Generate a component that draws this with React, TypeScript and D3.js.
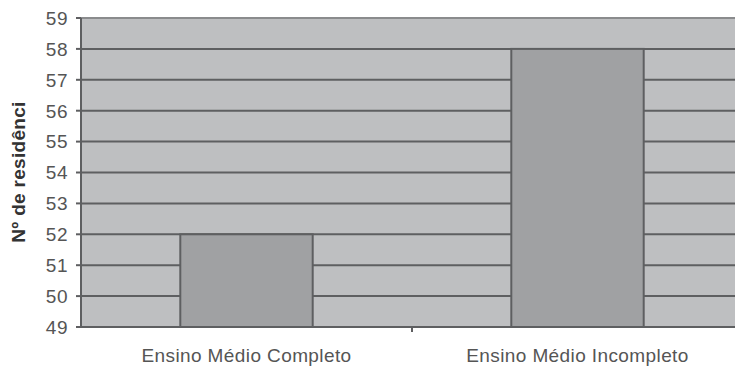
import React from "react";
import * as d3 from "d3";

const categories = ["Ensino Médio Completo", "Ensino Médio Incompleto"];
const values = [52, 58];
const yTicks = [49, 50, 51, 52, 53, 54, 55, 56, 57, 58, 59];
const yTitle = "Nº de residênci";

const W = 735;
const H = 367;
const margin = { left: 81, top: 18, right: -8, bottom: 40 };

export default function App() {
  const plotRight = W - margin.right;
  const plotBottom = H - margin.bottom;

  const x = d3
    .scaleBand<string>()
    .domain(categories)
    .range([margin.left, plotRight])
    .paddingInner(0.6)
    .paddingOuter(0.3);
  const band = d3.scaleBand<string>().domain(categories).range([margin.left, plotRight]);
  const y = d3.scaleLinear().domain([49, 59]).range([plotBottom, margin.top]);

  const font = "Arial, 'Liberation Sans', sans-serif";
  const gridColor = "#5e5f61";

  return (
    <svg
      width={W}
      height={H}
      style={{ position: "absolute", left: 0, top: 0, background: "#fff" }}
    >
      {/* plot area */}
      <rect
        x={margin.left}
        y={margin.top}
        width={plotRight - margin.left}
        height={plotBottom - margin.top}
        fill="#bebfc1"
      />
      {/* horizontal gridlines */}
      {yTicks.slice(1).map((t) => (
        <line
          key={"g" + t}
          x1={margin.left}
          x2={plotRight}
          y1={y(t)}
          y2={y(t)}
          stroke={t === 59 ? "#8a8b8d" : gridColor}
          strokeWidth={2}
        />
      ))}
      {/* bars */}
      {categories.map((c, i) => (
        <rect
          key={c}
          x={x(c)}
          y={y(values[i])}
          width={x.bandwidth()}
          height={y(49) - y(values[i])}
          fill="#a0a1a3"
          stroke={gridColor}
          strokeWidth={2}
        />
      ))}
      {/* y axis */}
      <line
        x1={margin.left}
        x2={margin.left}
        y1={margin.top}
        y2={plotBottom}
        stroke={gridColor}
        strokeWidth={2}
      />
      {yTicks.map((t) => (
        <g key={"t" + t}>
          <line x1={margin.left - 5} x2={margin.left} y1={y(t)} y2={y(t)} stroke={gridColor} strokeWidth={2} />
          <text
            x={margin.left - 13}
            y={y(t)}
            dy="0.36em"
            textAnchor="end"
            fontFamily={font}
            fontSize={19}
            letterSpacing={0.5}
            fill="#555"
          >
            {t}
          </text>
        </g>
      ))}
      {/* x axis */}
      <line
        x1={margin.left}
        x2={plotRight}
        y1={plotBottom}
        y2={plotBottom}
        stroke={gridColor}
        strokeWidth={2}
      />
      {categories.map((c, i) =>
        i > 0 ? (
          <line
            key={"xt" + c}
            x1={band(c)}
            x2={band(c)}
            y1={plotBottom}
            y2={plotBottom + 5}
            stroke={gridColor}
            strokeWidth={2}
          />
        ) : null
      )}
      {categories.map((c) => (
        <text
          key={"xl" + c}
          x={band(c)! + band.bandwidth() / 2}
          y={362}
          textAnchor="middle"
          fontFamily={font}
          fontSize={19}
          letterSpacing={0.4}
          fill="#555"
        >
          {c}
        </text>
      ))}
      {/* y title */}
      <text
        transform={`translate(25, ${172}) rotate(-90)`}
        textAnchor="middle"
        fontFamily={font}
        fontSize={19}
        fontWeight="bold"
        letterSpacing={0.3}
        fill="#333"
      >
        {yTitle}
      </text>
    </svg>
  );
}
